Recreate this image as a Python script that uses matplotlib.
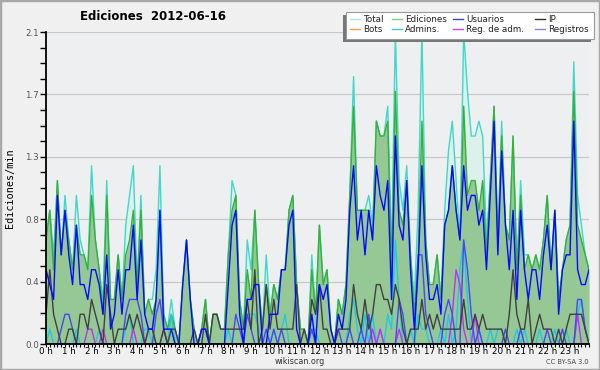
import numpy as np
import matplotlib
matplotlib.use("Agg")
import matplotlib.pyplot as plt
from matplotlib.patches import Rectangle
from matplotlib.lines import Line2D

# edits per 10-minute slot (divided by 10 -> edits/min), 144 slots
total = [7,9,6,11,6,10,7,5,10,7,6,5,12,7,5,3,11,3,3,6,3,8,10,12,
         4,10,2,3,3,5,12,2,1,3,1,0,4,7,3,1,0,1,3,0,2,2,1,1,
         6,11,10,3,1,7,5,9,4,1,6,2,4,3,5,5,9,10,4,1,1,0,6,2,
         8,4,5,1,0,3,2,4,10,18,9,9,9,10,8,15,14,14,16,6,21,11,9,
         12,6,3,9,21,7,4,4,6,3,9,13,15,11,7,21,17,14,14,15,14,7,11,16,
         7,15,8,7,14,5,11,6,6,5,6,5,7,10,5,9,3,5,7,8,19,10,8,6,5]
ediciones = [7,9,5,11,6,9,7,5,8,6,6,5,10,7,5,2,10,3,3,6,3,6,7,9,
             4,9,2,3,2,3,9,2,1,2,1,0,4,7,3,1,0,1,3,0,2,2,1,1,
             6,9,10,3,1,5,3,9,4,1,4,2,4,3,5,5,9,10,4,1,1,0,5,2,
             8,4,5,1,0,3,2,4,10,16,9,9,9,9,7,15,14,14,15,5,17,9,8,
             11,6,2,6,15,7,4,4,6,3,8,9,12,9,7,16,10,11,11,9,11,6,11,16,
             7,14,8,7,14,5,10,5,6,5,6,5,7,10,5,9,3,5,7,8,17,8,7,6,5]
usuarios = [5,4,3,10,6,9,6,4,8,4,4,3,5,5,4,2,6,1,2,5,2,5,5,8,
            3,7,2,1,1,3,9,1,1,1,0,0,4,7,3,0,0,1,1,0,0,0,0,0,
            4,8,9,2,0,3,3,4,4,0,0,2,2,2,5,5,8,9,1,0,0,0,2,0,
            4,3,4,1,0,2,1,3,9,12,7,9,6,9,7,12,10,9,11,3,14,8,7,
            11,5,1,5,12,6,3,3,4,2,8,9,12,9,7,12,9,10,10,8,9,5,10,15,
            6,13,8,5,9,3,9,5,3,5,5,3,6,8,5,9,2,5,6,6,15,5,4,4,5]
ip = [2,5,2,1,0,0,1,1,0,2,2,1,3,2,1,0,4,2,0,1,1,1,2,1,
      2,1,0,1,1,0,0,1,0,1,1,0,0,0,0,1,0,0,2,0,2,2,1,1,
      1,1,1,1,1,3,1,5,0,1,4,1,3,1,1,1,1,1,4,0,1,0,3,2,
      4,1,1,0,0,1,1,1,1,4,2,1,3,1,2,4,4,3,3,2,4,3,1,
      0,1,1,1,3,1,2,1,2,1,1,1,1,1,1,3,1,1,2,1,2,1,1,1,
      1,1,0,2,5,2,1,1,3,0,1,2,1,1,1,0,1,0,1,2,2,2,2,1,0]
admins = [0,1,0,0,0,0,0,0,1,0,0,0,0,0,1,0,0,0,0,0,0,1,2,0,
          0,0,1,1,0,0,0,0,0,2,0,0,0,0,0,0,0,0,0,0,0,0,0,0,
          1,0,0,0,0,2,2,2,1,0,0,0,1,0,1,2,0,0,0,0,0,0,1,1,
          0,0,0,0,0,0,0,0,2,3,1,0,2,0,2,0,1,0,2,1,7,3,0,
          0,1,0,2,1,1,0,0,0,1,0,2,0,1,5,7,3,0,0,1,0,0,1,0,
          1,1,0,0,0,1,0,1,0,0,0,1,0,0,0,1,0,0,1,0,0,2,3,1,0]
reg_adm = [0,0,0,0,0,0,0,0,0,0,0,1,1,0,0,1,0,0,0,0,0,0,0,1,
           0,0,0,1,1,0,0,1,0,0,0,0,0,0,0,0,0,0,0,0,0,0,0,0,
           0,0,0,0,0,0,0,0,0,0,0,0,0,0,0,0,0,0,0,0,0,0,0,0,
           0,0,0,0,0,0,0,0,0,0,0,0,0,0,1,0,1,0,0,0,0,1,0,
           0,0,0,0,0,0,0,0,0,0,0,0,2,5,4,1,0,0,2,0,0,0,0,0,
           0,0,0,0,0,0,0,0,0,0,0,0,0,0,0,0,0,0,0,0,0,2,0,0,0]
registros = [0,0,0,0,1,2,2,1,0,0,0,0,0,0,0,0,0,0,0,0,0,2,3,3,
             3,2,0,0,0,2,3,1,0,0,0,0,0,0,0,0,0,1,1,0,0,0,0,0,
             0,0,2,1,0,2,1,0,0,0,1,0,1,0,1,0,0,0,0,0,0,0,1,0,
             0,0,0,0,0,1,0,0,1,0,0,1,0,2,0,0,0,0,0,0,0,3,2,
             0,0,0,6,6,2,1,0,0,0,2,3,2,0,0,7,5,2,0,1,0,0,0,0,
             0,0,1,0,0,0,1,0,0,0,0,0,0,1,0,0,0,1,0,0,0,3,3,1,0]

ytick_vals = [0.0, 0.42, 0.84, 1.26, 1.68, 2.1]
ytick_labels = ["0.0", "0.4", "0.8", "1.3", "1.7", "2.1"]
hour_labels = [f"{h} h" for h in range(24)]

t = np.arange(len(total)) / 6.0
def per_min(a):
    return np.asarray(a, dtype=float) / 10.0

fig = plt.figure(figsize=(6, 3.7), dpi=100, facecolor="#f0f0f0")
fig.patches.append(Rectangle((0, 0), 1, 1, transform=fig.transFigure,
                             fill=False, edgecolor="#a8a8a8", lw=2.5, zorder=10))

ax = fig.add_axes([46/600, 26/370, 543/600, 312/370])
ax.set_facecolor("#eeeff1")

ax.fill_between(t, 0, per_min(total), color="#dcf1ec", lw=0, zorder=1)
ax.fill_between(t, 0, per_min(ediciones), color="#96c896", lw=0, zorder=2)
ax.plot(t, per_min(total), color="#40d8c8", lw=1.0, zorder=3)
ax.plot(t, per_min(ediciones), color="#38b038", lw=1.0, zorder=4)
ax.plot(t, per_min(admins), color="#20c8e0", lw=1.0, zorder=5)
ax.plot(t, per_min(reg_adm), color="#c030f0", lw=1.0, zorder=5)
ax.plot(t, per_min(registros), color="#4848f0", lw=1.0, zorder=5)
ax.plot(t, per_min(ip), color="#404040", lw=1.0, zorder=6)
ax.plot(t, per_min(usuarios), color="#0808ff", lw=1.0, zorder=7)

ax.set_xlim(0, t[-1])
ax.set_ylim(0, 2.1)
ax.set_yticks(ytick_vals)
ax.set_yticklabels(ytick_labels, fontsize=6.3, color="#555555")
ax.set_yticks(np.arange(0, 2.11, 0.105), minor=True)
ax.set_xticks(np.arange(24))
ax.set_xticklabels(hour_labels, fontsize=6.3)
ax.set_xticks(np.arange(0, t[-1] + 0.01, 1/6), minor=True)
ax.tick_params(axis="y", which="both", length=4, width=1, direction="out", pad=1)
ax.tick_params(axis="x", which="both", length=2.2, width=0.8, direction="out", pad=0.3)
ax.grid(axis="y", which="major", color="#c8c8c8", lw=0.9, zorder=0)
ax.set_axisbelow(True)
for s in ["top", "right"]:
    ax.spines[s].set_visible(False)
ax.spines["left"].set_linewidth(1.3)
ax.spines["bottom"].set_linewidth(1.3)
ax.spines["left"].set_zorder(8)
ax.spines["bottom"].set_zorder(8)

fig.text(153/600, 1 - 17/370, "Ediciones  2012-06-16", ha="center", va="center",
         fontsize=8.5, fontweight="bold")
fig.text(10/600, 1 - 188/370, "Ediciones/min", ha="center", va="center",
         rotation=90, fontsize=7.3, family="DejaVu Sans Mono")
fig.text(300/600, 1 - 362/370, "wikiscan.org", ha="center", va="center",
         fontsize=5.8, color="#333333")
fig.text(589/600, 1 - 362/370, "CC BY-SA 3.0", ha="right", va="center",
         fontsize=4.8, color="#444444")

# legend (drawn manually in figure pixels)
W, H = 600, 370
def fx(x): return x / W
def fy(y): return 1 - y / H
fig.patches.append(Rectangle((fx(343), fy(42)), fx(248), 27/H, transform=fig.transFigure,
                             facecolor="#777777", edgecolor="none", zorder=20))
fig.patches.append(Rectangle((fx(346), fy(39)), fx(248), 27/H, transform=fig.transFigure,
                             facecolor="white", edgecolor="#999999", lw=0.8, zorder=21))
legend_items = [
    ("Total", "#a8e8e0", 350, 19), ("Ediciones", "#80d080", 392, 19),
    ("Usuarios", "#4040e0", 453, 19), ("IP", "#303030", 535, 19),
    ("Bots", "#f0a040", 350, 29), ("Admins.", "#40c8e0", 392, 29),
    ("Reg. de adm.", "#d040e0", 453, 29), ("Registros", "#8080f0", 535, 29),
]
for label, col, x0, y0 in legend_items:
    fig.lines.append(Line2D([fx(x0), fx(x0 + 10)], [fy(y0), fy(y0)],
                            transform=fig.transFigure, color=col, lw=1.0, zorder=22))
    fig.text(fx(x0 + 13), fy(y0), label, ha="left", va="center", fontsize=6.3,
             color="#222222", zorder=23)

fig.savefig("out.png", dpi=100, facecolor=fig.get_facecolor())
